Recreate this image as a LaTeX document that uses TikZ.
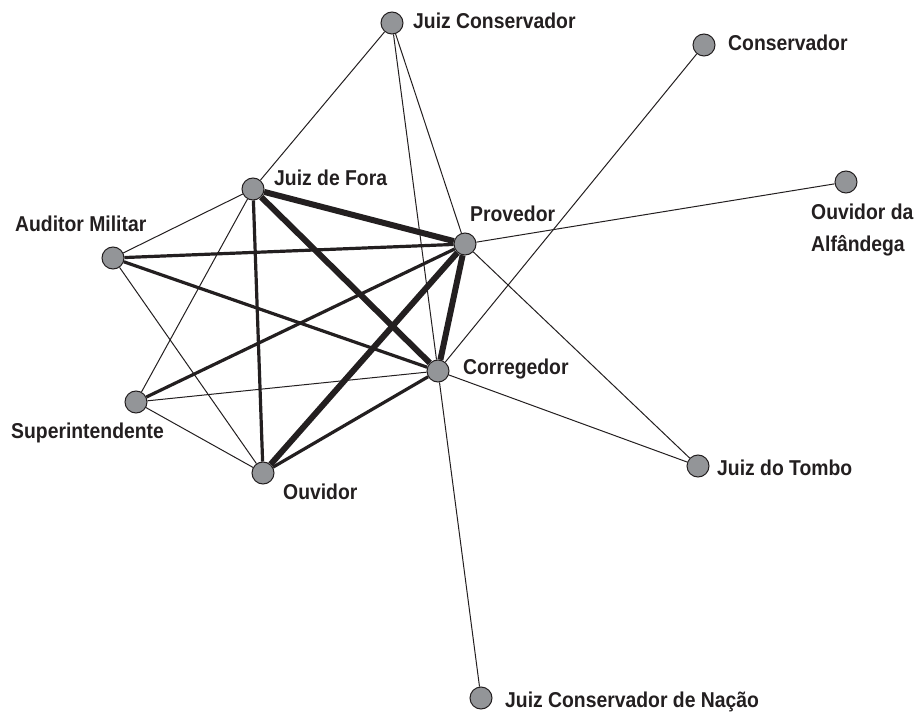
\documentclass[tikz,border=0pt]{standalone}
\usepackage{fontspec}
\setmainfont{Liberation Sans}[FakeStretch=0.9]
\usetikzlibrary{backgrounds}
\definecolor{nodegray}{HTML}{939598}
\definecolor{ink}{HTML}{231F20}
\tikzset{
  actor/.style={circle, fill=nodegray, draw=ink, line width=1pt, minimum size=22pt, inner sep=0pt},
  lbl/.style={anchor=base west, inner sep=0pt, text=ink, font=\fontsize{21.5}{24}\selectfont\bfseries},
  tie/.style={draw=ink, line width=1pt},
  midtie/.style={draw=ink, line width=3.2pt},
  strongtie/.style={draw=ink, line width=6pt},
}
\begin{document}
\begin{tikzpicture}[x=1pt,y=-1pt]
\useasboundingbox (0,0) rectangle (916,714);
% nodes
\node[actor] (JC)   at (392,23)  {};
\node[actor] (Cons) at (704,45)  {};
\node[actor] (JF)   at (253,189) {};
\node[actor] (OA)   at (846,182) {};
\node[actor] (AM)   at (113,258) {};
\node[actor] (Prov) at (465,244) {};
\node[actor] (Corr) at (438,371) {};
\node[actor] (Sup)  at (136,402) {};
\node[actor] (Ouv)  at (263,473) {};
\node[actor] (JT)   at (698,466) {};
\node[actor] (JCN)  at (481,698) {};
% labels
\node[lbl] (lJC)   at (413,29)  {Juiz Conservador};
\node[lbl] (lCons) at (728,51)  {Conservador};
\node[lbl] (lJF)   at (274,186) {Juiz de Fora};
\node[lbl] (lOA1)  at (811,220) {Ouvidor da};
\node[lbl] (lOA2)  at (811,252) {Alfândega};
\node[lbl] (lAM)   at (15,232)  {Auditor Militar};
\node[lbl] (lProv) at (470,222) {Provedor};
\node[lbl] (lCorr) at (463,374) {Corregedor};
\node[lbl] (lSup)  at (11,438)  {Superintendente};
\node[lbl] (lOuv)  at (283,499) {Ouvidor};
\node[lbl] (lJT)   at (717,475) {Juiz do Tombo};
\node[lbl] (lJCN)  at (505,707) {Juiz Conservador de Nação};
% edges
\begin{pgfonlayer}{background}
\path[tie] (JC) -- (JF);
\path[tie] (JC) -- (Prov);
\path[tie] (JC) -- (Corr);
\path[tie] (Cons) -- (Corr);
\path[tie] (OA) -- (Prov);
\path[tie] (JF) -- (AM);
\path[tie] (JF) -- (Sup);
\path[tie] (AM) -- (Ouv);
\path[tie] (Prov) -- (JT);
\path[tie] (Corr) -- (Sup);
\path[tie] (Corr) -- (JT);
\path[tie] (Corr) -- (JCN);
\path[tie] (Sup) -- (Ouv);
\path[midtie] (JF) -- (Ouv);
\path[midtie] (AM) -- (Prov);
\path[midtie] (AM) -- (Corr);
\path[midtie] (Prov) -- (Sup);
\path[midtie] (Corr) -- (Ouv);
\path[strongtie] (JF) -- (Prov);
\path[strongtie] (JF) -- (Corr);
\path[strongtie] (Prov) -- (Corr);
\path[strongtie] (Prov) -- (Ouv);
\end{pgfonlayer}
\end{tikzpicture}
\end{document}
